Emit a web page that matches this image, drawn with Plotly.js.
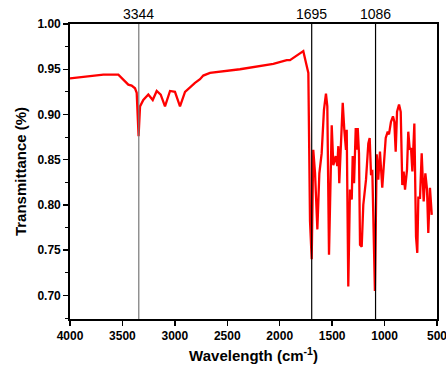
<!DOCTYPE html>
<html>
<head>
<meta charset="utf-8">
<script src="https://cdn.plot.ly/plotly-3.0.1.min.js"></script>
<style>html,body{margin:0;padding:0;background:#fff;}#chart{width:446px;height:369px;}</style>
</head>
<body>
<div id="chart"></div>
<script>
const wavenumber = [4000,3682,3539,3444,3412,3380,3364,3346,3332,3301,3253,3211,3173,3135,3094,3046,2999,2951,2903,2839,2808,2760,2729,2665,2379,2061,1933,1902,1775,1749,1727,1711,1695,1680,1663,1641,1622,1600,1578,1559,1546,1530,1504,1489,1466,1451,1441,1432,1418,1399,1384,1368,1361,1346,1330,1313,1304,1291,1275,1266,1256,1244,1234,1218,1203,1177,1155,1142,1129,1117,1092,1075,1060,1044,1022,1005,989,970,958,939,920,907,894,881,862,846,831,818,805,786,774,760,748,735,716,700,688,678,662,646,627,611,595,583,567,550];
const transmittance = [0.940,0.944,0.944,0.933,0.932,0.929,0.924,0.876,0.909,0.916,0.922,0.916,0.926,0.922,0.909,0.926,0.925,0.909,0.925,0.932,0.935,0.939,0.943,0.946,0.950,0.956,0.960,0.960,0.970,0.957,0.946,0.782,0.740,0.861,0.835,0.773,0.835,0.857,0.905,0.923,0.909,0.745,0.888,0.844,0.854,0.843,0.865,0.824,0.865,0.913,0.883,0.861,0.883,0.710,0.817,0.806,0.854,0.824,0.885,0.861,0.885,0.857,0.756,0.754,0.800,0.828,0.868,0.874,0.833,0.839,0.705,0.856,0.828,0.859,0.819,0.854,0.874,0.881,0.878,0.892,0.898,0.892,0.859,0.903,0.911,0.903,0.822,0.837,0.817,0.839,0.881,0.861,0.863,0.837,0.890,0.765,0.747,0.808,0.808,0.857,0.804,0.835,0.817,0.769,0.819,0.789];
const peakPositions = [3344, 1695, 1086];
const peakLabels = ["3344", "1695", "1086"];
const peakLineColors = ["#777777", "#000000", "#000000"];
const xTicks = [4000,3500,3000,2500,2000,1500,1000,500];
const yTicks = [0.70,0.75,0.80,0.85,0.90,0.95,1.00];

const font = "Arial, 'Liberation Sans', sans-serif";

const trace = {
  x: wavenumber, y: transmittance, type: 'scatter', mode: 'lines',
  line: {color: '#ff0000', width: 2.3}, hoverinfo: 'skip'
};

const shapes = peakPositions.map((p, i) => ({
  type: 'line', xref: 'x', yref: 'paper', x0: p, x1: p, y0: 0, y1: 1,
  line: {color: peakLineColors[i], width: 1.2}, layer: 'above'
}));
const annotations = peakPositions.map((p, i) => ({
  xref: 'x', yref: 'paper', x: p, y: 1, yanchor: 'bottom', xanchor: 'center',
  yshift: 0, text: peakLabels[i], showarrow: false,
  font: {family: font, size: 14, color: '#000'}
}));

const layout = {
  width: 446, height: 369,
  margin: {l: 70, r: 9, t: 24, b: 50},
  paper_bgcolor: '#fff', plot_bgcolor: '#fff',
  showlegend: false,
  shapes: shapes, annotations: annotations,
  xaxis: {
    range: [4000, 500], autorange: false,
    tickvals: xTicks, ticktext: xTicks.map(String),
    ticklabeloverflow: 'allow',
    ticks: 'outside', ticklen: 5, tickwidth: 1.5, tickcolor: '#000',
    showline: true, linecolor: '#000', linewidth: 1.8, mirror: true,
    showgrid: false, zeroline: false,
    tickfont: {family: font, size: 12, color: '#000', weight: 'bold'},
    title: {text: 'Wavelength (cm<sup>-1</sup>)', standoff: 8,
            font: {family: font, size: 15, color: '#000', weight: 'bold'}}
  },
  yaxis: {
    range: [0.674, 1.0], autorange: false,
    tickvals: yTicks, ticktext: yTicks.map(v => v.toFixed(2)),
    ticks: 'outside', ticklen: 5, tickwidth: 1.5, tickcolor: '#000',
    minor: {dtick: 0.025, tick0: 0.7, ticks: 'outside', ticklen: 3, tickwidth: 1.2, tickcolor: '#000'},
    showline: true, linecolor: '#000', linewidth: 1.8, mirror: true,
    showgrid: false, zeroline: false,
    tickfont: {family: font, size: 12, color: '#000', weight: 'bold'},
    title: {text: 'Transmittance (%)', standoff: 7,
            font: {family: font, size: 15, color: '#000', weight: 'bold'}}
  }
};

Plotly.newPlot('chart', [trace], layout, {displayModeBar: false, staticPlot: true});
</script>
</body>
</html>
